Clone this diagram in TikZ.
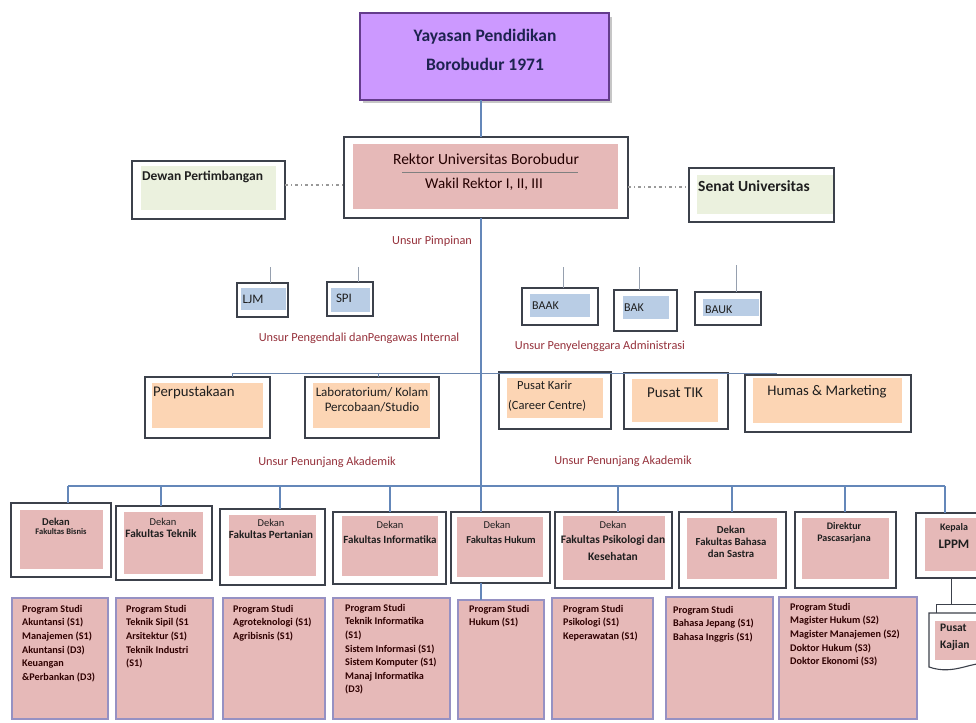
\documentclass[tikz,border=0pt]{standalone}
\usepackage{fontspec}
\setmainfont{Carlito}
\definecolor{yayfill}{RGB}{204,153,255}
\definecolor{yayedge}{RGB}{100,60,140}
\definecolor{pinkf}{RGB}{230,185,184}
\definecolor{greenf}{RGB}{235,241,222}
\definecolor{bluef}{RGB}{185,205,229}
\definecolor{peachf}{RGB}{252,213,180}
\definecolor{edge}{RGB}{60,65,75}
\definecolor{spinec}{RGB}{100,135,185}
\definecolor{lavedge}{RGB}{150,145,195}
\definecolor{labelc}{RGB}{150,50,60}
\definecolor{navy}{RGB}{30,35,80}
\definecolor{thinc}{RGB}{150,160,175}
\newcommand\fsz[2]{\fontsize{#1}{#2}\selectfont}
\newcommand\obx[6]{\node[#1,anchor=north west,inner sep=0pt,outer sep=0pt,minimum width={(#5-#3)*1pt},minimum height={(#6-#4)*1pt}] (#2) at (#3,#4) {};}
\begin{document}
\begin{tikzpicture}[x=1pt,y=-1pt,
  outerbox/.style={draw=edge,line width=1.1pt,fill=white},
  pinkfill/.style={fill=pinkf},
  greenfill/.style={fill=greenf},
  bluefill/.style={fill=bluef},
  peachfill/.style={fill=peachf},
  prodibox/.style={draw=lavedge,line width=2.2pt,fill=pinkf},
  txt/.style={inner sep=0pt,text=black!88},
  unsur/.style={inner sep=0pt,text=labelc,font=\fsz{12.3}{14}},
  spineline/.style={draw=spinec,line width=1.4pt},
  thinline/.style={draw=thinc,line width=0.8pt},
  dashdot/.style={draw=gray!80,line width=1.2pt,dash pattern=on 3pt off 3pt on 1.2pt off 3pt},
  facdek/.style={txt,font=\fsz{10.5}{12}},
  facname/.style={txt,font=\bfseries\fsz{10.5}{12},align=center},
  prodit/.style={txt,anchor=north west,align=left,font=\bfseries\fsz{10.2}{13.6},text=black!80!red!90!black}
  ]
\useasboundingbox[fill=white] (0,0) rectangle (976,722);
\coordinate (spine) at (481,0);

% ---------- Yayasan ----------
\fill[gray!45] (363,17) rectangle (612,103);
\obx{draw=yayedge,line width=1.4pt,fill=yayfill}{yay}{360}{13}{609}{100}
\node[txt,text=navy,font=\bfseries\fsz{17.5}{20}] (yayt1) at (485,37) {Yayasan Pendidikan};
\node[txt,text=navy,font=\bfseries\fsz{17.5}{20}] (yayt2) at (485,64) {Borobudur 1971};

% ---------- Rektor ----------
\obx{draw=edge,line width=2pt,fill=white}{rek}{344}{137}{628}{218}
\obx{pinkfill}{rekin}{353}{144}{618}{209}
\node[txt,font=\fsz{15.5}{17},text=black!80!red!70!black] (rekt1) at (486,159) {Rektor Universitas Borobudur};
\draw[gray,line width=0.6pt] (402,172) -- (578,172);
\node[txt,font=\fsz{15}{17},text=black!80!red!70!black] (rekt2) at (484,184) {Wakil Rektor I, II, III};

% ---------- Dewan & Senat ----------
\obx{outerbox}{dewan}{132}{161}{285}{219}
\obx{greenfill}{dewanin}{141}{166}{276}{210}
\node[txt,anchor=west,font=\bfseries\fsz{13.5}{15}] (dewant) at (142,177) {Dewan Pertimbangan};
\obx{outerbox}{senat}{689}{168}{834}{222}
\obx{greenfill}{senatin}{697}{175}{833}{214}
\node[txt,anchor=west,font=\bfseries\fsz{15.5}{17}] (senatt) at (698,186) {Senat Universitas};
\coordinate (dd) at (0,185);
\coordinate (sd) at (0,187);
\draw[dashdot] (dewan.east |- dd) -- (rek.west |- dd);
\draw[dashdot] (rek.east |- sd) -- (senat.west |- sd);

\node[unsur] (upimp) at (432,241) {Unsur Pimpinan};

% ---------- Spine ----------
\draw[spineline] (yay.south -| spine) -- (rek.north -| spine);

% ---------- Pengendali ----------
\obx{outerbox}{ljm}{237}{283}{288}{317}
\obx{bluefill}{ljmin}{241}{288}{286}{310}
\node[txt,font=\fsz{13}{15}] (ljmt) at (253,299) {LJM};
\obx{outerbox}{spi}{327}{282}{373}{316}
\obx{bluefill}{spiin}{331}{288}{370}{312}
\node[txt,font=\fsz{13}{15}] (spit) at (344,298) {SPI};
\coordinate (ljmst) at (270,267);
\coordinate (spist) at (358,267);
\draw[thinline] (ljmst) -- (ljmst |- ljm.north);
\draw[thinline] (spist) -- (spist |- spi.north);
\node[unsur] (upeng) at (359,338) {Unsur Pengendali danPengawas Internal};

% ---------- Administrasi ----------
\obx{outerbox}{baak}{522}{288}{598}{325}
\obx{bluefill}{baakin}{530}{294}{590}{317}
\node[txt,anchor=west,font=\fsz{12}{14}] (baakt) at (532,306) {BAAK};
\obx{outerbox}{bak}{614}{290}{677}{331}
\obx{bluefill}{bakin}{623}{296}{669}{319}
\node[txt,anchor=west,font=\fsz{12}{14}] (bakt) at (624,308) {BAK};
\obx{outerbox}{bauk}{695}{292}{761}{325}
\obx{bluefill}{baukin}{703}{299}{759}{316}
\node[txt,anchor=west,font=\fsz{12}{14}] (baukt) at (705,310) {BAUK};
\coordinate (baakst) at (563,267);
\coordinate (bakst) at (639,267);
\coordinate (baukst) at (736,265);
\draw[thinline] (baakst) -- (baakst |- baak.north);
\draw[thinline] (bakst) -- (bakst |- bak.north);
\draw[thinline] (baukst) -- (baukst |- bauk.north);
\node[unsur] (uadm) at (600,346) {Unsur Penyelenggara Administrasi};

% ---------- Penunjang ----------
\obx{outerbox}{perp}{145}{377}{270}{438}
\obx{peachfill}{perpin}{152}{383}{263}{428}
\node[txt,anchor=west,font=\fsz{14.8}{16}] (perpt) at (153,393) {Perpustakaan};
\obx{outerbox}{lab}{305}{377}{439}{438}
\obx{peachfill}{labin}{313}{383}{430}{428}
\node[txt,align=center,font=\fsz{13}{15.5}] (labt) at (372,400) {Laboratorium/ Kolam\\Percobaan/Studio};
\obx{outerbox}{karir}{499}{372}{611}{429}
\obx{peachfill}{karirin}{507}{378}{603}{418}
\node[txt,anchor=north west,align=left,font=\fsz{12.5}{20}] (karirt) at (508,381) {\hspace*{9pt}Pusat Karir\\(Career Centre)};
\obx{outerbox}{tik}{624}{373}{728}{429}
\obx{peachfill}{tikin}{632}{379}{718}{422}
\node[txt,font=\fsz{15}{16}] (tikt) at (675,393) {Pusat TIK};
\obx{outerbox}{humas}{745}{375}{911}{432}
\obx{peachfill}{humasin}{753}{378}{902}{423}
\node[txt,font=\fsz{14.7}{16}] (humast) at (827,392) {Humas \& Marketing};
\coordinate (pL) at (232,373);
\coordinate (pR) at (777,373);
\coordinate (labst) at (378,373);
\draw[thinline,draw=spinec!80!gray] (pL) -- (pR);
\draw[thinline,draw=spinec!80!gray] (pL) -- (pL |- perp.north);
\draw[thinline,draw=spinec!80!gray] (labst) -- (labst |- lab.north);
\node[unsur] (upenl) at (327,462) {Unsur Penunjang Akademik};
\node[unsur] (upenr) at (623,461) {Unsur Penunjang Akademik};

% ---------- Faculties ----------
\obx{outerbox}{fbis}{11}{503}{111}{577}
\obx{pinkfill}{fbisin}{20}{510}{103}{569}
\node[txt,font=\bfseries\fsz{10.5}{12}] (fbist1) at (56,522) {Dekan};
\node[txt,font=\bfseries\fsz{8.5}{9}] (fbist2) at (61,532) {Fakultas Bisnis};

\obx{outerbox}{ftek}{116}{506}{212}{580}
\obx{pinkfill}{ftekin}{124}{512}{203}{574}
\node[facdek] (ftekt1) at (163,522) {Dekan};
\node[facname,font=\bfseries\fsz{11.3}{12}] (ftekt2) at (161,534) {Fakultas Teknik};

\obx{outerbox}{fper}{220}{509}{325}{585}
\obx{pinkfill}{fperin}{229}{515}{316}{576}
\node[facdek] (fpert1) at (271,523) {Dekan};
\node[facname,font=\bfseries\fsz{11}{12}] (fpert2) at (271,535) {Fakultas Pertanian};

\obx{outerbox}{finf}{333}{512}{446}{584}
\obx{pinkfill}{finfin}{342}{516}{438}{576}
\node[facdek] (finft1) at (390,525) {Dekan};
\node[facname,font=\bfseries\fsz{11}{12}] (finft2) at (390,540) {Fakultas Informatika};

\obx{outerbox}{fhuk}{451}{512}{550}{583}
\obx{pinkfill}{fhukin}{457}{517}{543}{577}
\node[facdek] (fhukt1) at (497,525) {Dekan};
\node[facname] (fhukt2) at (501,540) {Fakultas Hukum};

\obx{outerbox}{fpsi}{555}{512}{672}{588}
\obx{pinkfill}{fpsiin}{563}{516}{665}{580}
\node[facdek] (fpsit1) at (613,525) {Dekan};
\node[facname,font=\bfseries\fsz{11.5}{16.5}] (fpsit2) at (613,548) {Fakultas Psikologi dan\\Kesehatan};

\obx{outerbox}{fbhs}{679}{512}{786}{588}
\obx{pinkfill}{fbhsin}{687}{518}{777}{579}
\node[txt,align=center,font=\bfseries\fsz{10.7}{11.8}] (fbhst) at (731,542) {Dekan\\Fakultas Bahasa\\dan Sastra};

\obx{outerbox}{fpas}{795}{512}{896}{588}
\obx{pinkfill}{fpasin}{802}{518}{889}{579}
\node[txt,align=center,font=\bfseries\fsz{10}{11.5}] (fpast) at (844,533) {Direktur\\Pascasarjana};

\obx{outerbox}{lppm}{916}{513}{990}{578}
\obx{pinkfill}{lppmin}{925}{518}{990}{571}
\node[txt,font=\bfseries\fsz{10}{12}] (lppmt1) at (954,528) {Kepala};
\node[txt,font=\bfseries\fsz{13}{15}] (lppmt2) at (954,544) {LPPM};

% bus and stubs
\coordinate (busL) at (68,486);
\coordinate (busR) at (945,486);
\draw[spineline] (rek.south -| spine) -- (fhuk.north -| spine);
\draw[spineline] (busL) -- (busR);
\draw[spineline] (busL) -- (busL |- fbis.north);
\draw[spineline] (busR) -- (busR |- lppm.north);
\foreach \n/\x in {ftek/161,fper/280,finf/390,fpsi/618,fbhs/732,fpas/845}{
  \draw[spineline] (\x,486) -- (\x,486 |- \n.north);
}

% ---------- Program Studi ----------
\obx{prodibox}{p1}{12}{598}{108}{719}
\node[prodit] (p1t) at (22,605) {Program Studi\\Akuntansi (S1)\\Manajemen (S1)\\Akuntansi (D3)\\Keuangan\\\&Perbankan (D3)};
\obx{prodibox}{p2}{116}{598}{213}{719}
\node[prodit] (p2t) at (126,605) {Program Studi\\Teknik Sipil (S1\\Arsitektur (S1)\\Teknik Industri\\(S1)};
\obx{prodibox}{p3}{223}{598}{325}{719}
\node[prodit] (p3t) at (233,605) {Program Studi\\Agroteknologi (S1)\\Agribisnis (S1)};
\obx{prodibox}{p4}{333}{598}{450}{719}
\node[prodit] (p4t) at (345,604) {Program Studi\\Teknik Informatika\\(S1)\\Sistem Informasi (S1)\\Sistem Komputer (S1)\\Manaj Informatika\\(D3)};
\obx{prodibox}{p5}{458}{600}{544}{719}
\node[prodit] (p5t) at (469,605) {Program Studi\\Hukum (S1)};
\obx{prodibox}{p6}{552}{598}{653}{719}
\node[prodit] (p6t) at (563,605) {Program Studi\\Psikologi (S1)\\Keperawatan (S1)};
\obx{prodibox}{p7}{666}{597}{773}{719}
\node[prodit] (p7t) at (673,606) {Program Studi\\Bahasa Jepang (S1)\\Bahasa Inggris (S1)};
\obx{prodibox}{p8}{779}{597}{917}{719}
\node[prodit] (p8t) at (790,603) {Program Studi\\Magister Hukum (S2)\\Magister Manajemen (S2)\\Doktor Hukum (S3)\\Doktor Ekonomi (S3)};
\draw[spineline] (fhuk.south -| spine) -- (p5.north -| spine);

% ---------- Pusat Kajian ----------
\coordinate (kajtop) at (951,604);
\draw[thinline,draw=edge] (lppm.south -| kajtop) -- (kajtop);
\draw[edge,line width=1pt] (936,613) -- (936,604) -- (990,604);
\draw[edge,line width=1.1pt,fill=white] (929,613) -- (990,613) -- (990,664) .. controls (972,660) and (955,676) .. (929,667) -- cycle;
\fill[pinkf] (935,621) rectangle (990,660);
\node[txt,anchor=north west,align=left,font=\bfseries\fsz{11.5}{17}] (kajian) at (940,624) {Pusat\\Kajian};
\end{tikzpicture}
\end{document}
